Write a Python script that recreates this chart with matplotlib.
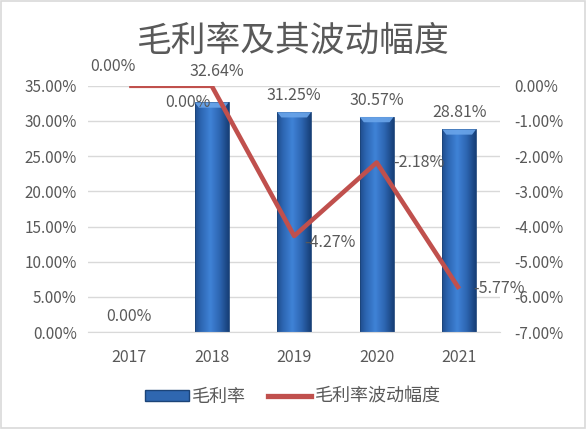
import numpy as np
import matplotlib
matplotlib.use("Agg")
import matplotlib.pyplot as plt
from matplotlib.lines import Line2D
from matplotlib.patches import Rectangle, Polygon
from matplotlib.colors import LinearSegmentedColormap

plt.rcParams['font.family'] = ['Noto Sans CJK SC', 'DejaVu Sans']

years = ['2017', '2018', '2019', '2020', '2021']
gross_margin = [0.00, 32.64, 31.25, 30.57, 28.81]
margin_change = [0.00, 0.00, -4.27, -2.18, -5.77]

txt = '#595959'
grid_c = '#d9d9d9'
red = '#c0504d'

fig = plt.figure(figsize=(5.86, 4.29), dpi=100)
ax = fig.add_axes([0.150, 0.226, 0.704, 0.574])
ax2 = ax.twinx()

x = np.arange(len(years))
w = 0.41

# gradient bars with a bevelled top
grad = np.linspace(0, 1, 64)
prof = 1 - np.abs(grad - 0.45) * 1.7
cmap = LinearSegmentedColormap.from_list('b', ['#173f78', '#2d66b2', '#3f82d6'])
img = np.tile(np.clip(prof, 0, 1), (2, 1))
bars = ax.bar(x, gross_margin, width=w, color='none', edgecolor='#1c4478', linewidth=0.6, zorder=2)
for b in bars:
    if b.get_height() <= 0:
        continue
    x0, y0, bw, bh = b.get_x(), b.get_y(), b.get_width(), b.get_height()
    im = ax.imshow(img, cmap=cmap, aspect='auto', extent=[x0, x0 + bw, y0, y0 + bh],
                   zorder=1.5, interpolation='bicubic')
    im.set_clip_path(b)
    top = y0 + bh
    ax.add_patch(Polygon([(x0, top), (x0 + bw, top), (x0 + bw * 0.88, top - 0.75),
                          (x0 + bw * 0.12, top - 0.75)], closed=True,
                         facecolor='#6aa5ea', edgecolor='none', alpha=0.9, zorder=2.1))

ax.set_xlim(-0.5, 4.5)
ax.set_ylim(0, 35)
ax.set_yticks(np.arange(0, 36, 5))
ax.set_yticklabels([f'{v:.2f}%' for v in np.arange(0, 36, 5)])
ax.set_xticks(x)
ax.set_xticklabels(years)
ax.grid(axis='y', color=grid_c, linewidth=1)
ax.set_axisbelow(True)

ax2.plot(x, margin_change, color=red, linewidth=3.3, zorder=3, solid_capstyle='butt')
ax2.set_ylim(-7, 0)
ax2.set_yticks(np.arange(-7, 1, 1))
ax2.set_yticklabels([f'{v:.2f}%' for v in np.arange(-7, 1, 1)])

for a in (ax, ax2):
    for s in a.spines.values():
        s.set_visible(False)
    a.tick_params(length=0, labelsize=11, colors=txt)
ax.spines['bottom'].set_visible(True)
ax.spines['bottom'].set_color(grid_c)
ax.tick_params(axis='x', pad=12, labelsize=11.5)
ax.tick_params(axis='y', pad=8)
ax2.tick_params(axis='y', pad=10)
ax.set_zorder(1)
ax2.set_zorder(2)
ax.patch.set_visible(False)

# bar labels (drawn on ax2 coordinates so they sit above the line)
bar_off = [(0, 5), (4, 16), (0, 6), (0, 6), (0, 6)]
for i, v in enumerate(gross_margin):
    ax2.annotate(f'{v:.2f}%', (x[i], v / 5 - 7), xytext=bar_off[i], textcoords='offset points',
                 ha='center', va='bottom', fontsize=11.5, color=txt, zorder=5)

# line labels
line_off = [(-12, 14, 'center', 'center'), (-1, -12, 'right', 'center'),
            (7, -5, 'left', 'center'), (12, 0, 'left', 'center'), (10, 0, 'left', 'center')]
for i, v in enumerate(margin_change):
    dx, dy, ha, va = line_off[i]
    ax2.annotate(f'{v:.2f}%', (x[i], v), xytext=(dx, dy), textcoords='offset points',
                 ha=ha, va=va, fontsize=11.5, color=txt, zorder=5)

fig.text(0.5, 0.905, '毛利率及其波动幅度', ha='center', va='center', fontsize=25, color=txt)

handles = [Rectangle((0, 0), 1, 1, facecolor='#2f67b0', edgecolor='#1c4478'),
           Line2D([0], [0], color=red, linewidth=3.8)]
fig.legend(handles, ['毛利率', '毛利率波动幅度'], loc='center', bbox_to_anchor=(0.5, 0.075),
           ncol=2, frameon=False, fontsize=13, labelcolor=txt, handlelength=2.4,
           handleheight=0.6, columnspacing=1.2, handletextpad=0.2)

fig.patches.append(Rectangle((0.002, 0.002), 0.996, 0.996, transform=fig.transFigure,
                             fill=False, edgecolor='#d9d9d9', linewidth=1.2))

fig.savefig('out.png', dpi=100)
